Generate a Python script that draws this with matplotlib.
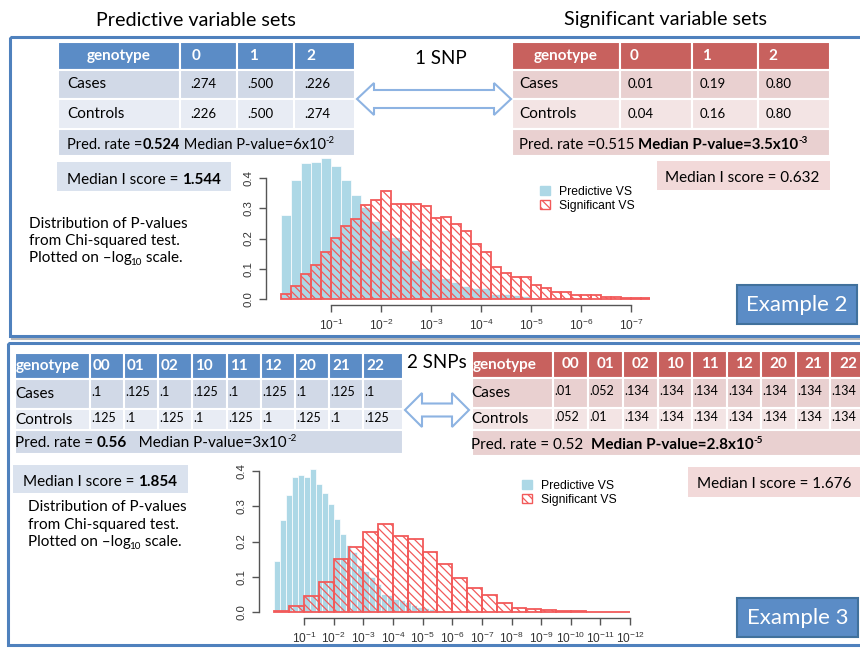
import matplotlib
matplotlib.use("Agg")
import numpy as np
import matplotlib.pyplot as plt
from matplotlib.patches import Rectangle, Polygon, Patch

plt.rcParams['mathtext.fontset'] = 'custom'
plt.rcParams['mathtext.rm'] = 'Liberation Sans'
plt.rcParams['mathtext.it'] = 'Liberation Sans:italic'
plt.rcParams['mathtext.bf'] = 'Liberation Sans:bold'
plt.rcParams['hatch.linewidth'] = 0.9

PPT = 'Lato'
RFONT = 'Liberation Sans'

# ---------------- Example 2 (1 SNP) ----------------
geno1 = ['0', '1', '2']
pred1_cases = ['.274', '.500', '.226']
pred1_controls = ['.226', '.500', '.274']
sig1_cases = ['0.01', '0.19', '0.80']
sig1_controls = ['0.04', '0.16', '0.80']

# density of -log10(p), bins of 0.2 starting at 0
hist1_pred = [0.279, 0.395, 0.45, 0.452, 0.465, 0.44, 0.395, 0.345, 0.305,
              0.257, 0.228, 0.204, 0.162, 0.13, 0.104, 0.10, 0.069, 0.055,
              0.042, 0.036, 0.036, 0.018, 0.018, 0.012, 0.009]
hist1_sig = [0.018, 0.044, 0.082, 0.113, 0.155, 0.203, 0.24, 0.266, 0.31,
             0.327, 0.356, 0.313, 0.313, 0.313, 0.307, 0.267, 0.272, 0.249,
             0.224, 0.182, 0.157, 0.107, 0.085, 0.073, 0.073, 0.045, 0.036,
             0.022, 0.022, 0.012, 0.012, 0.012, 0.008, 0.008, 0.004, 0.004,
             0.002]
hist1_bw_pred = 0.2
hist1_bw_sig = 0.2
xticks1 = [1, 2, 3, 4, 5, 6, 7]

# ---------------- Example 3 (2 SNPs) ----------------
geno2 = ['00', '01', '02', '10', '11', '12', '20', '21', '22']
pred2_cases = ['.1', '.125', '.1', '.125', '.1', '.125', '.1', '.125', '.1']
pred2_controls = ['.125', '.1', '.125', '.1', '.125', '.1', '.125', '.1', '.125']
sig2_cases = ['.01', '.052', '.134', '.134', '.134', '.134', '.134', '.134', '.134']
sig2_controls = ['.052', '.01', '.134', '.134', '.134', '.134', '.134', '.134', '.134']

hist2_pred = [0.145, 0.261, 0.333, 0.382, 0.389, 0.382, 0.406, 0.363, 0.339,
              0.307, 0.263, 0.221, 0.191, 0.169, 0.132, 0.115, 0.10, 0.08,
              0.052, 0.047, 0.038, 0.033, 0.028, 0.019, 0.014, 0.011, 0.008,
              0.006, 0.004, 0.002]
hist2_sig = [0.002, 0.017, 0.044, 0.086, 0.149, 0.183, 0.226, 0.25, 0.217,
             0.208, 0.171, 0.135, 0.097, 0.068, 0.048, 0.026, 0.012, 0.008,
             0.005, 0.003, 0.002, 0.001, 0.0005, 0.0003]
hist2_bw_pred = 0.2
hist2_bw_sig = 0.5
xticks2 = [1, 2, 3, 4, 5, 6, 7, 8, 9, 10, 11, 12]

# colours
BLUE_HDR = '#5b8cc6'
BLUE_R1 = '#d1d9e7'
BLUE_R2 = '#e8ecf4'
BLUE_BOX = '#dae2ee'
RED_HDR = '#c8615e'
RED_R1 = '#e9d0d0'
RED_R2 = '#f3e4e4'
RED_BOX = '#f2d9d9'
FRAME = '#4f81bd'
HIST_BLUE = '#add8e6'
HIST_RED = '#f25a5a'

W, H = 860, 648
fig = plt.figure(figsize=(W / 100, H / 100), dpi=100)
bg = fig.add_axes([0, 0, 1, 1])
bg.set_xlim(0, W)
bg.set_ylim(H, 0)
bg.set_axis_off()
renderer = fig.canvas.get_renderer()


def text_width(s, size, weight):
    # width in pixels, keeps trailing spaces
    t = bg.text(0, 0, s + '|', fontsize=size, fontweight=weight, family=PPT)
    w1 = t.get_window_extent(renderer).width
    t.remove()
    t = bg.text(0, 0, '|', fontsize=size, fontweight=weight, family=PPT)
    w2 = t.get_window_extent(renderer).width
    t.remove()
    return w1 - w2


def rich(x, y, parts, size, color='black'):
    # parts: (string, bold, kind) with kind None / 'sup' / 'sub'; y is baseline
    for s, bold, kind in parts:
        weight = 'bold' if bold else 'normal'
        fs = size
        dy = 0
        if kind == 'sup':
            fs = size * 0.65
            dy = -size * 0.55
        elif kind == 'sub':
            fs = size * 0.65
            dy = size * 0.3
            x -= 1.5
        bg.text(x, y + dy, s, fontsize=fs, fontweight=weight, family=PPT,
                color=color, va='baseline', ha='left')
        x += text_width(s, fs, weight)


def rect(x0, y0, x1, y1, fc, ec='none', lw=0, z=1):
    bg.add_patch(Rectangle((x0, y0), x1 - x0, y1 - y0, facecolor=fc,
                           edgecolor=ec, linewidth=lw, zorder=z))


def table(xs, ys, hdr_col, row_cols, headers, cases, controls,
          geno_center, cols_center, lab_x, val_dx, hdr_size, lab_size,
          val_size, val_dy=0):
    for i in range(len(xs) - 1):
        rect(xs[i], ys[0], xs[i + 1], ys[1], hdr_col, 'white', 1.5)
        rect(xs[i], ys[1], xs[i + 1], ys[2], row_cols[0], 'white', 1.5)
        rect(xs[i], ys[2], xs[i + 1], ys[3], row_cols[1], 'white', 1.5)
    rect(xs[0], ys[3], xs[-1], ys[4], row_cols[0], 'white', 1.5)
    yh = (ys[0] + ys[1]) / 2
    hdr = dict(color='white', fontweight='bold', fontsize=hdr_size, family=PPT,
               va='center', zorder=3)
    if geno_center:
        bg.text((xs[0] + xs[1]) / 2, yh, 'genotype', ha='center', **hdr)
    else:
        bg.text(xs[0] + 1, yh, 'genotype', ha='left', **hdr)
    for i, g in enumerate(headers):
        if cols_center:
            bg.text((xs[i + 1] + xs[i + 2]) / 2, yh, g, ha='center', **hdr)
        else:
            bg.text(xs[i + 1] + val_dx + 2, yh, g, ha='left', **hdr)
    y1 = (ys[1] + ys[2]) / 2
    y2 = (ys[2] + ys[3]) / 2
    bg.text(lab_x, y1, 'Cases', fontsize=lab_size, family=PPT, va='center', zorder=3)
    bg.text(lab_x, y2, 'Controls', fontsize=lab_size, family=PPT, va='center', zorder=3)
    for i in range(len(cases)):
        bg.text(xs[i + 1] + val_dx, y1 + val_dy, cases[i], fontsize=val_size,
                family=PPT, va='center', zorder=3)
        bg.text(xs[i + 1] + val_dx, y2 + val_dy, controls[i], fontsize=val_size,
                family=PPT, va='center', zorder=3)


# ---------- panel frames ----------
bg.plot([12, 860], [338.5, 338.5], color='#b8b8b8', lw=1.5, zorder=1)
bg.add_patch(Rectangle((10, 37), 860, 298.5, facecolor='none', edgecolor=FRAME,
                       linewidth=2.2, zorder=2))
bg.add_patch(Rectangle((8, 343), 862, 302, facecolor='none', edgecolor=FRAME,
                       linewidth=2.2, zorder=2))

# headings
bg.text(196, 20, 'Predictive variable sets', fontsize=14.2, family=PPT,
        ha='center', va='center')
bg.text(666, 20, 'Significant variable sets', fontsize=14.2, family=PPT,
        ha='center', va='center')

# ---------- Example 2 tables ----------
table([58, 180, 237, 294, 355], [42, 70, 99, 129, 156], BLUE_HDR,
      [BLUE_R1, BLUE_R2], geno1, pred1_cases, pred1_controls,
      True, False, 67, 10, 11, 11, 9.5)
rich(67, 149, [('Pred. rate =', False, None), ('0.524', True, None),
               (' Median P-value=6x10', False, None), ('-2', False, 'sup')], 10.5)

table([512, 620, 692, 758, 830], [42, 70, 99, 129, 156], RED_HDR,
      [RED_R1, RED_R2], geno1, sig1_cases, sig1_controls,
      True, False, 519, 8, 11, 11, 9.5)
rich(519, 149, [('Pred. rate =0.515 ', False, None),
                ('Median P-value=3.5x10', True, None), ('-3', True, 'sup')], 10.8)

bg.text(415, 58, '1 SNP', fontsize=13.5, family=PPT, va='center')

rect(57, 162, 231, 191, BLUE_BOX)
rich(67, 184, [('Median I score = ', False, None), ('1.544', True, None)], 11)
rect(657, 161, 830, 190, RED_BOX)
rich(665, 182, [('Median I score = 0.632', False, None)], 11)

rich(29, 228, [('Distribution of P-values', False, None)], 11)
rich(29, 245.5, [('from Chi-squared test.', False, None)], 11)
rich(29, 262, [('Plotted on \u2013log', False, None), ('10', False, 'sub'),
               (' scale.', False, None)], 11)

# ---------- Example 3 tables ----------
table([15, 90, 124, 158, 192, 227, 261, 295, 329, 363, 403],
      [353, 379, 409, 430, 454], BLUE_HDR, [BLUE_R1, BLUE_R2], geno2,
      pred2_cases, pred2_controls, False, False, 15, 1, 11, 11, 9, -2)
rich(15, 447, [('Pred. rate = ', False, None), ('0.56', True, None),
               ('   Median P-value=3x10', False, None), ('-2', False, 'sup')], 11)

table([472, 553, 588, 623, 658, 692, 727, 761, 796, 830, 866],
      [351, 378, 408, 430, 456], RED_HDR, [RED_R1, RED_R2], geno2,
      sig2_cases, sig2_controls, False, True, 471, 1, 11, 11, 9, -2)
rich(471, 449, [('Pred. rate = 0.52  ', False, None),
                ('Median P-value=2.8x10', True, None), ('-5', True, 'sup')], 11)

bg.text(407, 363, '2 SNPs', fontsize=13.5, family=PPT, va='center')

rect(13, 465, 188, 493, BLUE_BOX)
rich(23, 486, [('Median I score = ', False, None), ('1.854', True, None)], 11)
rect(688, 467, 860, 497, RED_BOX)
rich(697, 488, [('Median I score = 1.676', False, None)], 11)

rich(28, 511, [('Distribution of P-values', False, None)], 11)
rich(28, 528.5, [('from Chi-squared test.', False, None)], 11)
rich(28, 546, [('Plotted on \u2013log', False, None), ('10', False, 'sub'),
               (' scale.', False, None)], 11)


# ---------- double arrows ----------
def double_arrow(x0, x1, yc, head_len, head_h, shaft_h):
    pts = [(x0, yc), (x0 + head_len, yc - head_h), (x0 + head_len, yc - shaft_h),
           (x1 - head_len, yc - shaft_h), (x1 - head_len, yc - head_h), (x1, yc),
           (x1 - head_len, yc + head_h), (x1 - head_len, yc + shaft_h),
           (x0 + head_len, yc + shaft_h), (x0 + head_len, yc + head_h)]
    bg.add_patch(Polygon(pts, closed=True, facecolor='white', edgecolor='#8db3e2',
                         linewidth=1.5, zorder=3))


double_arrow(357, 511, 99, 17, 16, 9)
double_arrow(405, 469, 410, 17, 17, 6.5)

# ---------- example labels ----------
rect(737, 285, 857, 324, BLUE_HDR, '#41719c', 1.5, z=3)
bg.text(797, 305, 'Example 2', fontsize=16, family=PPT, color='white',
        ha='center', va='center', zorder=4)
rect(737, 598, 858, 637, BLUE_HDR, '#41719c', 1.5, z=3)
bg.text(797.5, 618, 'Example 3', fontsize=16, family=PPT, color='white',
        ha='center', va='center', zorder=4)


# ---------- histograms ----------
def hist_axes(px_left, px_right, px_top, px_bottom, x0_px, xscale, y0_px, yscale):
    ax = fig.add_axes([px_left / W, 1 - px_bottom / H,
                       (px_right - px_left) / W, (px_bottom - px_top) / H])
    ax.set_facecolor('none')
    ax.set_xlim((px_left - x0_px) / xscale, (px_right - x0_px) / xscale)
    ax.set_ylim(-(px_bottom - y0_px) / yscale, (y0_px - px_top) / yscale)
    return ax


def draw_hist(ax, pred, bw_pred, sig, bw_sig, ticks, leg_xy):
    edges_p = np.arange(len(pred)) * bw_pred
    edges_s = np.arange(len(sig)) * bw_sig
    ax.bar(edges_p, pred, width=bw_pred, align='edge', color=HIST_BLUE,
           edgecolor='white', linewidth=0.5, zorder=2)
    ax.bar(edges_s, sig, width=bw_sig, align='edge', fill=False,
           edgecolor=HIST_RED, hatch='\\\\\\\\', linewidth=1.3, zorder=3)
    for side in ['top', 'right']:
        ax.spines[side].set_visible(False)
    ax.spines['left'].set_bounds(0, 0.4)
    ax.spines['bottom'].set_bounds(ticks[0], ticks[-1])
    for side in ['left', 'bottom']:
        ax.spines[side].set_color('#555555')
        ax.spines[side].set_linewidth(1.0)
    ax.set_yticks([0, 0.1, 0.2, 0.3, 0.4])
    ax.set_yticklabels(['0.0', '0.1', '0.2', '0.3', '0.4'], rotation=90,
                       va='center', family=RFONT, fontsize=8.2, color='#333333')
    ax.set_xticks(ticks)
    ax.set_xticklabels(['$10^{-%d}$' % t for t in ticks], fontsize=8.6,
                       color='#333333')
    ax.tick_params(axis='both', length=5, width=1.0, color='#555555', pad=4)
    handles = [Patch(facecolor=HIST_BLUE, edgecolor=HIST_BLUE),
               Patch(facecolor='white', edgecolor=HIST_RED, hatch='\\\\\\\\')]
    ax.legend(handles, ['Predictive VS', 'Significant VS'], loc='upper left',
              bbox_to_anchor=(leg_xy[0] / W, 1 - leg_xy[1] / H),
              bbox_transform=fig.transFigure, frameon=False,
              prop={'family': RFONT, 'size': 8.7}, handlelength=0.8,
              handleheight=0.8, handletextpad=0.8, labelspacing=0.15,
              borderpad=0, borderaxespad=0)


ax1 = hist_axes(266, 650, 156, 305, 281, 50.0, 299, 302.5)
draw_hist(ax1, hist1_pred, hist1_bw_pred, hist1_sig, hist1_bw_sig, xticks1,
          (540, 186))

ax2 = hist_axes(259, 640, 464, 618, 274.4, 29.64, 612, 352.5)
draw_hist(ax2, hist2_pred, hist2_bw_pred, hist2_sig, hist2_bw_sig, xticks2,
          (522, 480))

fig.savefig('out.png', dpi=100)
